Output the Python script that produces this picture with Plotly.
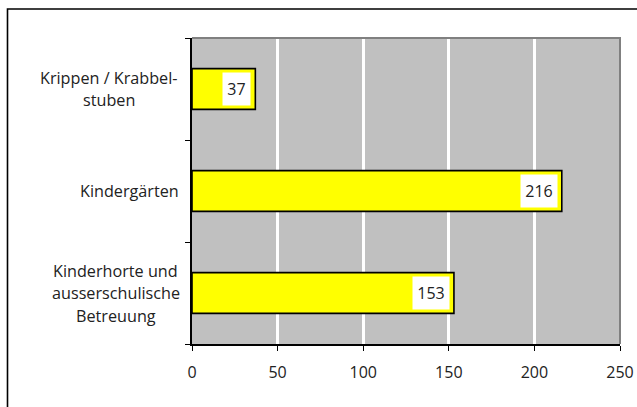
import plotly.graph_objects as go

# Childcare facilities by type
categories = [
    "Krippen / Krabbel-<br>stuben",
    "Kindergärten",
    "Kinderhorte und<br>ausserschulische<br>Betreuung",
]
values = [37, 216, 153]
x_ticks = [0, 50, 100, 150, 200, 250]

FONT = "Open Sans"
W, H = 637, 407
L, R, T, B = 192, 17, 38, 63
pw, ph = W - L - R, H - T - B

# horizontal centre (px) of each category's centred label block
label_centres = [109, 129, 115.5]


def px_x(p):
    return (p - L) / pw


def px_y(p):
    return (H - B - p) / ph


fig = go.Figure(
    go.Bar(
        x=values,
        y=categories,
        orientation="h",
        width=0.4,
        marker=dict(color="#ffff00", line=dict(color="#000000", width=1.6)),
        hoverinfo="x+y",
    )
)

# value labels on white boxes at the bar ends
for c, v in zip(categories, values):
    n = len(str(v))
    fig.add_annotation(
        x=v, y=c, xref="x", yref="y",
        text=str(v), showarrow=False,
        xanchor="right", xshift=-4,
        bgcolor="#ffffff", borderpad=0,
        width=9 * n + 9, height=32,
        font=dict(family=FONT, size=16, color="#222222"),
    )

# category labels, centred line by line with wider line spacing
LINE = 22.5
for c, cx in zip(categories, label_centres):
    lines = c.split("<br>")
    k = len(lines)
    for i, ln in enumerate(lines):
        fig.add_annotation(
            x=px_x(cx), y=c, xref="paper", yref="y",
            text=ln, showarrow=False,
            xanchor="center", yanchor="middle",
            yshift=((k - 1) / 2 - i) * LINE,
            font=dict(family=FONT, size=16.2, color="#222222"),
        )

# outer frame (top and left edges)
fig.add_shape(
    type="path", xref="paper", yref="paper",
    path=f"M {px_x(7.5)} {px_y(H)} L {px_x(7.5)} {px_y(9)} L {px_x(W)} {px_y(9)}",
    line=dict(color="#000000", width=1.6), layer="below",
)
# plot area frame (top and right)
fig.add_shape(
    type="path", xref="paper", yref="paper",
    path="M 0 1 L 1 1 L 1 0",
    line=dict(color="#808080", width=2), layer="above",
)

fig.update_layout(
    width=W, height=H,
    margin=dict(l=L, r=R, t=T, b=B),
    paper_bgcolor="#ffffff",
    plot_bgcolor="#c0c0c0",
    showlegend=False,
    font=dict(family=FONT, size=16, color="#222222"),
    bargap=0.6,
    xaxis=dict(
        range=[0, 250],
        tickvals=x_ticks,
        ticktext=[str(t) for t in x_ticks],
        showgrid=True, gridcolor="#ffffff", gridwidth=3,
        zeroline=False,
        showline=True, linecolor="#000000", linewidth=1.5,
        ticks="outside", ticklen=5, tickcolor="#000000", tickwidth=1.2,
        tickfont=dict(family=FONT, size=16, color="#222222"),
        ticklabelstandoff=8,
        automargin=False,
        fixedrange=True,
    ),
    yaxis=dict(
        type="category",
        categoryorder="array",
        categoryarray=categories[::-1],
        tickson="boundaries",
        showgrid=False, zeroline=False,
        showline=True, linecolor="#000000", linewidth=1.5,
        ticks="outside", ticklen=5, tickcolor="#000000", tickwidth=1.2,
        showticklabels=False,
        automargin=False,
        fixedrange=True,
    ),
)

fig.write_html("out.html")
